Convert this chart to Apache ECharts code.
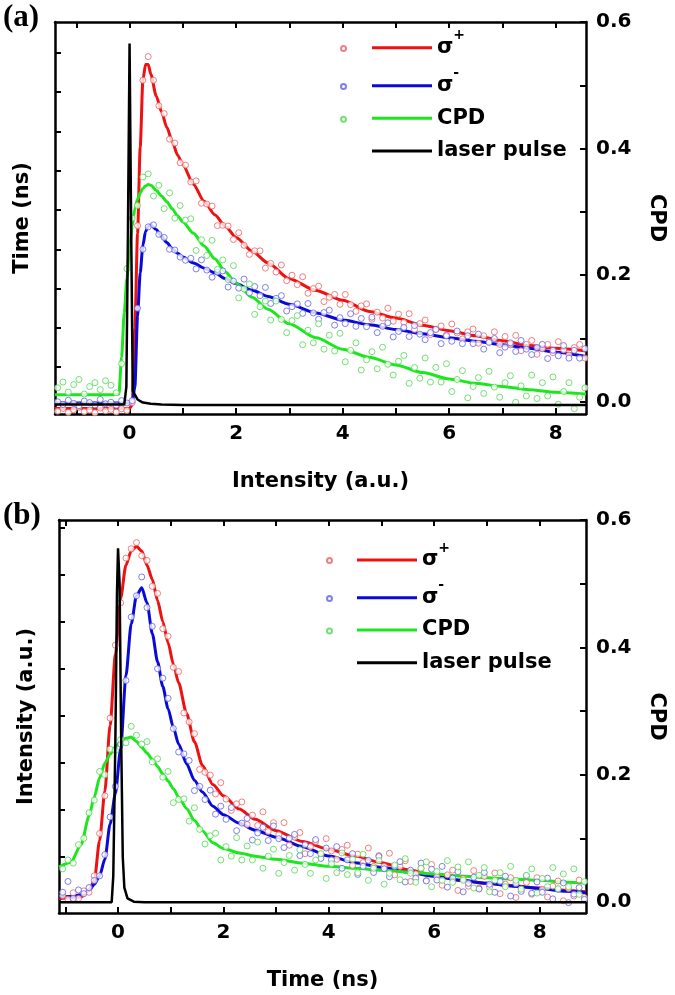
<!DOCTYPE html>
<html><head><meta charset="utf-8">
<script src="https://cdn.jsdelivr.net/npm/echarts@6/dist/echarts.min.js"></script>
<style>html,body{margin:0;padding:0;background:#fff}#c{width:675px;height:995px}</style>
</head><body><div id="c"></div>
<script>
// ---------- tick / label values ----------
const xTicks = [-1,0,1,2,3,4,5,6,7,8];
const xLabels = [0,2,4,6,8];
const leftTicksA = [1,2,3,4,5,6,7,8,9];
const leftTicksB = [1,2,3,4,5,6,7,8];
const cpdTicks = [0,0.1,0.2,0.3,0.4,0.5,0.6];
const cpdLabels = [0,0.2,0.4,0.6];

// ---------- panel (a): fitted curves ----------
const lineXA = [-1.4,-0.3,-0.2,-0.15,-0.1,-0.05,0,0.05,0.1,0.15,0.2,0.25,0.3,0.35,0.4,0.5,0.6,0.7,0.8,0.9,1.0,1.2,1.4,1.6,1.8,2.0,2.3,2.6,3.0,3.5,4.0,4.5,5.0,5.5,6.0,6.5,7.0,7.5,8.0,8.57];
const redLineA = [-0.05,-0.05,-0.05,-0.05,-0.05,-0.05,-0.05,0.05,2.0,4.4,6.6,8.3,8.7,8.7,8.45,7.9,7.5,7.1,6.75,6.4,6.15,5.65,5.22,4.88,4.58,4.3,3.95,3.65,3.25,2.95,2.7,2.42,2.25,2.07,1.93,1.8,1.67,1.55,1.48,1.41];
const blueLineA = [0.09,0.09,0.09,0.09,0.09,0.09,0.09,0.09,0.5,2.3,3.4,4.1,4.45,4.58,4.62,4.5,4.33,4.17,4.02,3.9,3.8,3.65,3.52,3.4,3.25,3.12,2.96,2.8,2.6,2.38,2.2,2.08,1.96,1.85,1.75,1.66,1.57,1.48,1.38,1.27];
const greenLineA = [0.011,0.011,0.012,0.07,0.14,0.195,0.243,0.278,0.305,0.32,0.33,0.337,0.341,0.343,0.342,0.334,0.325,0.316,0.305,0.294,0.284,0.266,0.246,0.226,0.205,0.187,0.165,0.146,0.123,0.101,0.083,0.07,0.058,0.046,0.036,0.029,0.024,0.019,0.015,0.012];
const laserXA = [-1.4,-0.1,-0.06,-0.03,0,0.03,0.06,0.1,0.15,0.25,0.4,0.6,1.0,8.57];
const laserYA = [0.05,0.05,0.5,4.5,9.23,4.5,0.4,0.3,0.18,0.1,0.07,0.05,0.04,0.04];

// ---------- panel (a): measured points ----------
const scatXA = [-1.35,-1.25,-1.15,-1.05,-0.95,-0.85,-0.75,-0.65,-0.55,-0.45,
-0.35,-0.25,-0.15,-0.05,0.05,0.15,0.25,0.35,0.45,0.55,
0.65,0.75,0.85,0.95,1.05,1.15,1.25,1.35,1.45,1.55,
1.65,1.75,1.85,1.95,2.05,2.15,2.25,2.35,2.45,2.55,
2.65,2.75,2.85,2.95,3.05,3.15,3.25,3.35,3.45,3.55,
3.65,3.75,3.85,3.95,4.05,4.15,4.25,4.35,4.45,4.55,
4.65,4.75,4.85,4.95,5.05,5.15,5.25,5.35,5.45,5.55,
5.65,5.75,5.85,5.95,6.05,6.15,6.25,6.35,6.45,6.55,
6.65,6.75,6.85,6.95,7.05,7.15,7.25,7.35,7.45,7.55,
7.65,7.75,7.85,7.95,8.05,8.15,8.25,8.35,8.45,8.55];
const redPtsA = [-0.12,-0.05,-0.15,-0.08,-0.02,-0.13,-0.09,-0.16,-0.04,-0.11,
-0.07,-0.14,-0.06,-0.1,0.1,4.6,8.3,8.9,8.3,7.65,
7.45,6.8,6.7,6.2,6.14,5.71,5.74,5.17,5.15,5.1,
4.6,4.61,4.59,4.25,4.42,4.1,3.87,3.96,3.96,3.52,
3.64,3.42,3.6,3.2,3.34,3.1,3.3,2.88,3.0,3.06,
2.67,2.78,2.85,2.6,2.85,2.59,2.42,2.56,2.61,2.22,
2.4,2.25,2.5,2.17,2.35,2.14,2.36,1.96,2.11,2.2,
1.83,1.96,2.05,1.82,2.1,1.87,1.72,1.9,1.97,1.61,
1.8,1.65,1.9,1.58,1.78,1.57,1.81,1.42,1.58,1.68,
1.33,1.47,1.58,1.37,1.65,1.44,1.31,1.5,1.58,1.23];
const bluePtsA = [0.12,0.05,0.16,0.08,0.02,0.14,0.1,0.04,0.18,0.07,
0.11,0.03,0.15,0.09,0.15,2.5,4.0,4.57,4.62,4.38,
4.3,4.0,3.98,3.8,3.72,3.77,3.5,3.73,3.47,3.29,
3.42,3.45,3.04,3.19,3.01,3.24,2.89,3.05,2.82,3.03,
2.62,2.75,2.82,2.43,2.54,2.61,2.37,2.62,2.38,2.22,
2.39,2.45,2.07,2.26,2.11,2.36,2.04,2.24,2.03,2.27,
1.88,2.04,2.13,1.77,1.91,2.01,1.78,2.06,1.84,1.7,
1.88,1.96,1.6,1.8,1.66,1.92,1.6,1.8,1.6,1.84,
1.46,1.63,1.73,1.37,1.51,1.62,1.4,1.68,1.46,1.32,
1.5,1.58,1.22,1.43,1.29,1.55,1.23,1.43,1.23,1.47];
const greenPtsA = [0.022,0.031,0.015,0.027,0.035,0.012,0.024,0.03,0.019,0.033,
0.026,0.014,0.06,0.21,0.29,0.31,0.355,0.36,0.325,0.342,
0.305,0.33,0.29,0.31,0.287,0.289,0.239,0.256,0.231,0.255,
0.209,0.224,0.193,0.215,0.164,0.178,0.186,0.138,0.15,0.159,
0.129,0.159,0.13,0.109,0.128,0.136,0.09,0.113,0.093,0.123,
0.083,0.105,0.08,0.108,0.063,0.081,0.093,0.05,0.066,0.079,
0.052,0.086,0.059,0.042,0.064,0.073,0.029,0.054,0.037,0.069,
0.031,0.054,0.031,0.06,0.016,0.035,0.049,0.006,0.024,0.038,
0.013,0.048,0.023,0.007,0.03,0.041,-0.001,0.025,0.009,0.042,
0.005,0.03,0.009,0.039,-0.004,0.016,0.03,-0.011,0.007,0.022];

// ---------- panel (b): fitted curves ----------
const lineXB = [-1.12,-0.9,-0.7,-0.55,-0.45,-0.35,-0.25,-0.15,-0.05,0.05,0.15,0.25,0.35,0.45,0.55,0.65,0.75,0.85,0.95,1.05,1.15,1.3,1.45,1.6,1.8,2.0,2.3,2.6,3.0,3.5,4.0,4.5,5.0,5.5,6.0,6.5,7.0,7.5,8.0,8.5,8.88];
const redLineB = [0.12,0.13,0.15,0.3,0.5,1.35,2.4,3.8,5.3,6.5,7.2,7.5,7.6,7.5,7.2,6.9,6.45,6.0,5.55,5.1,4.7,4.05,3.45,2.95,2.54,2.3,2.02,1.8,1.56,1.33,1.16,1.02,0.88,0.73,0.61,0.5,0.44,0.39,0.34,0.29,0.26];
const blueLineB = [0.15,0.16,0.2,0.29,0.42,0.6,0.95,1.7,2.35,3.3,4.85,5.95,6.55,6.72,6.4,5.75,5.15,4.62,4.15,3.75,3.4,2.98,2.63,2.38,2.08,1.9,1.72,1.57,1.42,1.22,1.02,0.88,0.78,0.68,0.59,0.51,0.44,0.38,0.33,0.27,0.24];
const greenLineB = [0.055,0.062,0.09,0.135,0.165,0.195,0.218,0.232,0.244,0.252,0.257,0.259,0.252,0.243,0.234,0.224,0.213,0.201,0.19,0.178,0.165,0.147,0.128,0.112,0.093,0.084,0.077,0.072,0.067,0.061,0.056,0.053,0.05,0.047,0.044,0.041,0.038,0.036,0.034,0.031,0.03];
const laserXB = [-1.12,-0.12,-0.09,-0.05,-0.02,0,0.03,0.06,0.09,0.12,0.18,0.3,0.5,8.88];
const laserYB = [0.04,0.04,0.6,3.5,6.6,7.56,6.8,3.5,1.0,0.35,0.12,0.05,0.04,0.04];

// ---------- panel (b): measured points ----------
const scatXB = [-1.05,-0.95,-0.85,-0.75,-0.65,-0.55,-0.45,-0.35,-0.25,-0.15,
-0.05,0.05,0.15,0.25,0.35,0.45,0.55,0.65,0.75,0.85,
0.95,1.05,1.15,1.25,1.35,1.45,1.55,1.65,1.75,1.85,
1.95,2.05,2.15,2.25,2.35,2.45,2.55,2.65,2.75,2.85,
2.95,3.05,3.15,3.25,3.35,3.45,3.55,3.65,3.75,3.85,
3.95,4.05,4.15,4.25,4.35,4.45,4.55,4.65,4.75,4.85,
4.95,5.05,5.15,5.25,5.35,5.45,5.55,5.65,5.75,5.85,
5.95,6.05,6.15,6.25,6.35,6.45,6.55,6.65,6.75,6.85,
6.95,7.05,7.15,7.25,7.35,7.45,7.55,7.65,7.75,7.85,
7.95,8.05,8.15,8.25,8.35,8.45,8.55,8.65,8.75,8.85];
const redPtsB = [0.18,0.1,0.24,0.12,0.28,0.25,0.6,1.5,2.3,3.95,
5.5,6.4,7.35,7.55,7.68,7.4,7.3,6.75,6.6,5.85,
5.69,5.03,4.94,4.06,3.87,3.62,2.86,2.8,2.74,2.34,
2.58,2.23,1.99,2.13,2.17,1.69,1.89,1.67,1.96,1.54,
1.73,1.47,1.73,1.25,1.42,1.52,1.07,1.22,1.33,1.06,
1.39,1.13,0.95,1.16,1.25,0.82,1.06,0.88,1.19,0.8,
1.03,0.8,1.08,0.62,0.8,0.92,0.48,0.64,0.76,0.5,
0.84,0.58,0.4,0.62,0.72,0.29,0.54,0.38,0.71,0.34,
0.59,0.36,0.66,0.22,0.42,0.56,0.14,0.32,0.46,0.21,
0.56,0.31,0.15,0.38,0.49,0.07,0.33,0.17,0.51,0.14];
const bluePtsB = [0.25,0.48,0.12,0.3,0.22,0.35,0.5,0.6,1.05,1.85,
2.5,3.4,4.75,6.1,6.55,6.95,6.3,5.9,5.0,4.8,
4.37,3.73,3.23,3.19,3.05,2.41,2.5,2.22,2.42,1.91,
2.08,1.8,2.05,1.56,1.72,1.82,1.36,1.51,1.63,1.35,
1.66,1.39,1.2,1.4,1.48,1.03,1.26,1.07,1.37,0.97,
1.19,0.94,1.22,0.76,0.94,1.07,0.63,0.8,0.93,0.67,
1.01,0.75,0.58,0.8,0.9,0.47,0.72,0.55,0.87,0.49,
0.74,0.51,0.8,0.36,0.55,0.69,0.26,0.44,0.57,0.32,
0.67,0.42,0.25,0.48,0.59,0.17,0.43,0.27,0.6,0.23,
0.47,0.25,0.55,0.11,0.31,0.45,0.03,0.21,0.35,0.1];
const greenPtsB = [0.052,0.066,0.061,0.09,0.1,0.14,0.16,0.205,0.2,0.24,
0.238,0.255,0.25,0.276,0.262,0.248,0.252,0.22,0.225,0.196,
0.205,0.156,0.161,0.162,0.127,0.148,0.114,0.091,0.104,0.108,
0.066,0.087,0.072,0.101,0.066,0.088,0.066,0.094,0.053,0.072,
0.083,0.045,0.062,0.073,0.05,0.082,0.059,0.045,0.066,0.076,
0.037,0.06,0.046,0.077,0.043,0.067,0.046,0.075,0.034,0.053,
0.065,0.028,0.045,0.058,0.035,0.068,0.045,0.031,0.053,0.063,
0.024,0.048,0.034,0.065,0.031,0.055,0.034,0.063,0.022,0.042,
0.054,0.016,0.034,0.046,0.024,0.056,0.034,0.02,0.042,0.052,
0.014,0.037,0.024,0.054,0.021,0.044,0.024,0.052,0.012,0.032];

// ---------- styling ----------
const FONT = 'DejaVu Sans';
const C_RED = '#ee1111', C_BLUE = '#0a0ad8', C_GREEN = '#1ee61e', C_BLACK = '#000';
const P_RED = '#ee6060', P_BLUE = '#6060e8', P_GREEN = '#50d850';
const zip = (xs, ys) => xs.map((x, i) => [x, ys[i]]);
const txt = (size) => ({fontFamily: FONT, fontWeight: 'bold', fontSize: size, color: '#000'});
const AX = {color: '#000', width: 2.5};

function xAxisDef(grid, min, max, pos, name) {
  const lab = pos === 'bottom';
  return {
    type: 'value', gridIndex: grid, min: min, max: max, position: pos,
    name: lab ? name : '', nameLocation: 'middle', nameGap: 57, nameTextStyle: txt(21),
    axisLine: {show: true, onZero: false, lineStyle: AX},
    axisTick: {show: true, inside: true, length: 6, lineStyle: {color: '#000', width: 2}, customValues: xTicks},
    axisLabel: {show: lab, customValues: xLabels, margin: 10, ...txt(20)},
    splitLine: {show: false}
  };
}
function leftAxisDef(grid, min, max, ticks, name) {
  return {
    type: 'value', gridIndex: grid, min: min, max: max, position: 'left',
    name: name, nameLocation: 'middle', nameGap: 22, nameTextStyle: txt(21),
    axisLine: {show: true, onZero: false, lineStyle: AX},
    axisTick: {show: true, inside: true, length: 6, lineStyle: {color: '#000', width: 2}, customValues: ticks},
    axisLabel: {show: false}, splitLine: {show: false}
  };
}
function rightAxisDef(grid, min, max) {
  return {
    type: 'value', gridIndex: grid, min: min, max: max, position: 'right',
    name: 'CPD', nameLocation: 'middle', nameGap: 60, nameRotate: -90, nameTextStyle: txt(21),
    axisLine: {show: true, onZero: false, lineStyle: AX},
    axisTick: {show: true, inside: true, length: 6, lineStyle: {color: '#000', width: 2}, customValues: cpdTicks},
    axisLabel: {customValues: cpdLabels, margin: 10, formatter: v => v.toFixed(1), ...txt(20)},
    splitLine: {show: false}
  };
}
function lineS(name, xi, yi, data, color, w) {
  return {type: 'line', name: name, xAxisIndex: xi, yAxisIndex: yi, data: data, symbol: 'none',
    smooth: 0.25, smoothMonotone: 'x', lineStyle: {color: color, width: w}, itemStyle: {color: color}, z: 2};
}
function ptsS(name, xi, yi, data, color) {
  return {type: 'scatter', name: name, xAxisIndex: xi, yAxisIndex: yi, data: data, symbol: 'circle', symbolSize: 6,
    itemStyle: {color: '#fff', borderColor: color, borderWidth: 1}, z: 3};
}
function laserS(xi, yi, data) {
  return {type: 'line', name: 'laser pulse', xAxisIndex: xi, yAxisIndex: yi, data: data, symbol: 'none',
    lineStyle: {color: C_BLACK, width: 2.5}, itemStyle: {color: C_BLACK}, z: 4};
}

const rich = {
  s: {...txt(21), lineHeight: 24},
  p: {fontFamily: FONT, fontWeight: 'bold', fontSize: 14, color: '#000', padding: [0, 0, 24, 0]}
};
function fmt(n) {
  if (n === 'σ+') return '{s|σ}{p|+}';
  if (n === 'σ-') return '{s|σ}{p|-}';
  return n;
}
function lineLegend(name, left, top) {
  return {data: [{name: name, icon: 'rect'}], left: left, top: top, padding: 0, itemWidth: 60, itemHeight: 3,
    selectedMode: false, formatter: fmt, textStyle: {...txt(21), lineHeight: 24, rich: rich}};
}
function dotLegend(name, left, top) {
  return {data: [{name: name, icon: 'circle'}], left: left, top: top, padding: 0, itemWidth: 5, itemHeight: 5,
    selectedMode: false, formatter: () => '', textStyle: {fontSize: 5, lineHeight: 5}};
}

const option = {
  animation: false,
  backgroundColor: '#fff',
  grid: [
    {left: 55, top: 22, width: 533, height: 392, containLabel: false},
    {left: 59, top: 520, width: 532, height: 393, containLabel: false}
  ],
  xAxis: [
    xAxisDef(0, -1.4, 8.57, 'bottom', 'Intensity (a.u.)'),
    xAxisDef(0, -1.4, 8.57, 'top', ''),
    xAxisDef(1, -1.12, 8.88, 'bottom', 'Time (ns)'),
    xAxisDef(1, -1.12, 8.88, 'top', '')
  ],
  yAxis: [
    leftAxisDef(0, -0.19, 9.78, leftTicksA, 'Time (ns)'),
    rightAxisDef(0, -0.0195, 0.6),
    leftAxisDef(1, -0.19, 8.16, leftTicksB, 'Intensity (a.u.)'),
    rightAxisDef(1, -0.0173, 0.6)
  ],
  legend: [
    dotLegend('σ+ pts', 340, 45), dotLegend('σ- pts', 340, 83), dotLegend('CPD pts', 340, 115.8),
    lineLegend('σ+', 372, 28.7), lineLegend('σ-', 372, 66.7), lineLegend('CPD', 372, 106.3), lineLegend('laser pulse', 372, 139),
    dotLegend('σ+ pts', 326, 557), dotLegend('σ- pts', 326, 595), dotLegend('CPD pts', 326, 627.5),
    lineLegend('σ+', 357, 541), lineLegend('σ-', 357, 578.7), lineLegend('CPD', 357, 618), lineLegend('laser pulse', 357, 650.7)
  ],
  graphic: [
    {type: 'text', left: 3, top: 2, style: {text: '(a)', fontFamily: 'Liberation Serif', fontWeight: 'bold', fontSize: 31, fill: '#000'}},
    {type: 'text', left: 3, top: 500, style: {text: '(b)', fontFamily: 'Liberation Serif', fontWeight: 'bold', fontSize: 31, fill: '#000'}}
  ],
  series: [
    lineS('σ+', 0, 0, zip(lineXA, redLineA), C_RED, 3),
    lineS('σ-', 0, 0, zip(lineXA, blueLineA), C_BLUE, 3),
    lineS('CPD', 0, 1, zip(lineXA, greenLineA), C_GREEN, 3),
    laserS(0, 0, zip(laserXA, laserYA)),
    ptsS('σ+ pts', 0, 0, zip(scatXA, redPtsA), P_RED),
    ptsS('σ- pts', 0, 0, zip(scatXA, bluePtsA), P_BLUE),
    ptsS('CPD pts', 0, 1, zip(scatXA, greenPtsA), P_GREEN),
    lineS('σ+', 2, 2, zip(lineXB, redLineB), C_RED, 3),
    lineS('σ-', 2, 2, zip(lineXB, blueLineB), C_BLUE, 3),
    lineS('CPD', 2, 3, zip(lineXB, greenLineB), C_GREEN, 3),
    laserS(2, 2, zip(laserXB, laserYB)),
    ptsS('σ+ pts', 2, 2, zip(scatXB, redPtsB), P_RED),
    ptsS('σ- pts', 2, 2, zip(scatXB, bluePtsB), P_BLUE),
    ptsS('CPD pts', 2, 3, zip(scatXB, greenPtsB), P_GREEN)
  ]
};
const chart = echarts.init(document.getElementById('c'), null, {renderer: 'canvas'});
chart.setOption(option);
</script>
</body></html>
